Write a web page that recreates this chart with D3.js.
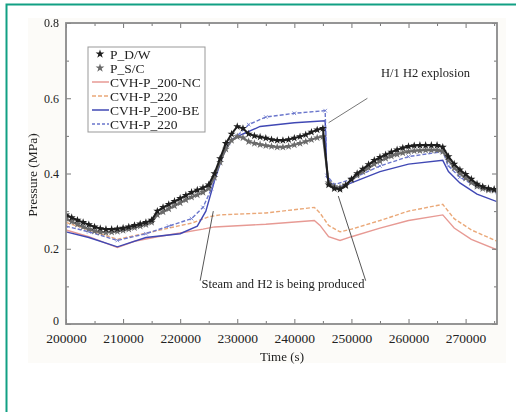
<!DOCTYPE html>
<html>
<head>
<meta charset="utf-8">
<script src="https://cdn.jsdelivr.net/npm/d3@7"></script>
<style>
  body { margin: 0; background: #fff; }
  svg { display: block; filter: blur(0.5px); }
  text { font-family: "Liberation Serif", "DejaVu Serif", serif; fill: #222; }
</style>
</head>
<body>
<script>
// experimental data, every 1000 s from 200000 to 275000
var expTime = d3.range(200000, 275001, 1000);
var pDW = [0.29, 0.283, 0.276, 0.27, 0.264, 0.258, 0.254, 0.252, 0.252, 0.253,
  0.255, 0.258, 0.262, 0.266, 0.27, 0.276, 0.30, 0.31, 0.318, 0.326,
  0.334, 0.342, 0.35, 0.356, 0.362, 0.37, 0.40, 0.44, 0.48, 0.505,
  0.525, 0.52, 0.505, 0.50, 0.497, 0.494, 0.49, 0.488, 0.488, 0.49,
  0.494, 0.498, 0.503, 0.51, 0.516, 0.52, 0.37, 0.36, 0.358, 0.368,
  0.385, 0.40, 0.412, 0.424, 0.435, 0.443, 0.45, 0.457, 0.463, 0.468,
  0.472, 0.474, 0.475, 0.475, 0.475, 0.475, 0.47, 0.445, 0.425, 0.41,
  0.398, 0.385, 0.372, 0.365, 0.36, 0.358];
var pSC = [0.28, 0.272, 0.265, 0.258, 0.252, 0.247, 0.244, 0.243, 0.244, 0.246,
  0.249, 0.252, 0.256, 0.26, 0.264, 0.27, 0.29, 0.298, 0.306, 0.314,
  0.322, 0.33, 0.337, 0.343, 0.35, 0.36, 0.39, 0.43, 0.465, 0.488,
  0.498, 0.495, 0.485, 0.48, 0.477, 0.474, 0.472, 0.47, 0.47, 0.472,
  0.476, 0.48, 0.485, 0.49, 0.495, 0.498, 0.375, 0.365, 0.362, 0.37,
  0.383, 0.395, 0.405, 0.415, 0.425, 0.433, 0.44, 0.446, 0.451, 0.455,
  0.458, 0.46, 0.461, 0.462, 0.462, 0.462, 0.458, 0.435, 0.415, 0.40,
  0.388, 0.376, 0.366, 0.36, 0.356, 0.355];

// model curves
var ncTime = [200000, 204000, 209000, 212000, 216000, 220000, 224000, 226000, 235000, 243500, 244500, 246000, 248000, 250000, 255000, 260000, 266000, 268000, 271000, 275500];
var ncVal  = [0.25, 0.232, 0.203, 0.22, 0.232, 0.242, 0.252, 0.258, 0.265, 0.275, 0.262, 0.232, 0.222, 0.232, 0.255, 0.275, 0.29, 0.255, 0.225, 0.197];
var p220Time = [200000, 204000, 209000, 213000, 218000, 222000, 225000, 227000, 235000, 243500, 244500, 246000, 248000, 250000, 255000, 260000, 266000, 268000, 271000, 275500];
var p220Val  = [0.27, 0.25, 0.225, 0.238, 0.255, 0.268, 0.285, 0.29, 0.295, 0.31, 0.295, 0.262, 0.245, 0.252, 0.275, 0.30, 0.318, 0.28, 0.25, 0.22];
var beTime = [200000, 204000, 209000, 214000, 220000, 223000, 224500, 226000, 227500, 229000, 231000, 234000, 240000, 245400, 245700, 247000, 250000, 255000, 260000, 266000, 267000, 269000, 272000, 275500];
var beVal  = [0.245, 0.23, 0.205, 0.23, 0.24, 0.26, 0.30, 0.38, 0.45, 0.49, 0.505, 0.525, 0.535, 0.54, 0.39, 0.36, 0.375, 0.405, 0.425, 0.435, 0.405, 0.375, 0.345, 0.325];
var b220Time = [200000, 204000, 209000, 214000, 218000, 222000, 224000, 225500, 227000, 228500, 230000, 232000, 235000, 240000, 245400, 245700, 247000, 250000, 255000, 260000, 266000, 267000, 269000, 272000, 275500];
var b220Val  = [0.26, 0.245, 0.222, 0.24, 0.26, 0.28, 0.31, 0.36, 0.43, 0.48, 0.50, 0.53, 0.55, 0.56, 0.567, 0.395, 0.37, 0.385, 0.42, 0.445, 0.458, 0.42, 0.39, 0.365, 0.35];

var xTicks = [200000, 210000, 220000, 230000, 240000, 250000, 260000, 270000];
var yTicks = [0, 0.2, 0.4, 0.6, 0.8];
var legendLabels = ["P_D/W", "P_S/C", "CVH-P_200-NC", "CVH-P_220", "CVH-P_200-BE", "CVH-P_220"];

var W = 516, H = 412;
var svg = d3.select("body").append("svg").attr("width", W).attr("height", H);

// outer teal frame
svg.append("rect").attr("x", 6.5).attr("y", 4.5).attr("width", 520).attr("height", 420)
  .attr("fill", "none").attr("stroke", "#12a084").attr("stroke-width", 2);
svg.append("rect").attr("x", 28).attr("y", 18).attr("width", 478).attr("height", 345)
  .attr("fill", "#fcfbf8");

var pLeft = 66, pTop = 23, pRight = 497, pBottom = 324;
var x = d3.scaleLinear().domain([200000, 275500]).range([pLeft, pRight]);
var y = d3.scaleLinear().domain([0, 0.8]).range([pBottom, pTop]);

svg.append("rect").attr("x", pLeft).attr("y", pTop).attr("width", pRight - pLeft).attr("height", pBottom - pTop)
  .attr("fill", "#fff");

svg.append("clipPath").attr("id", "clip").append("rect")
  .attr("x", pLeft).attr("y", pTop).attr("width", pRight - pLeft).attr("height", pBottom - pTop);
var plot = svg.append("g").attr("clip-path", "url(#clip)");

function zip(ts, vs) { return ts.map(function(t, i) { return [t, vs[i]]; }); }
var line = d3.line().x(function(d) { return x(d[0]); }).y(function(d) { return y(d[1]); });

var series = [
  {data: zip(ncTime, ncVal), color: "#e79a94", dash: null},
  {data: zip(p220Time, p220Val), color: "#eaa878", dash: "4,2"},
  {data: zip(beTime, beVal), color: "#4048b4", dash: null},
  {data: zip(b220Time, b220Val), color: "#6a76cc", dash: "4,2"}
];
plot.selectAll("path.model").data(series).enter().append("path")
  .attr("class", "model")
  .attr("d", function(d) { return line(d.data); })
  .attr("fill", "none")
  .attr("stroke", function(d) { return d.color; })
  .attr("stroke-width", 1.4)
  .attr("stroke-dasharray", function(d) { return d.dash; });

// small markers on blue dashed
plot.selectAll("path.b220m").data(series[3].data).enter().append("path")
  .attr("class", "b220m")
  .attr("transform", function(d) { return "translate(" + x(d[0]) + "," + y(d[1]) + ")"; })
  .attr("d", d3.symbol().type(d3.symbolTimes).size(10))
  .attr("stroke", "#6a76cc").attr("fill", "none").attr("stroke-width", 0.8);

var expSeries = [
  {data: zip(expTime, pSC), color: "#6a6a6a"},
  {data: zip(expTime, pDW), color: "#1e1e1e"}
];
expSeries.forEach(function(s) {
  plot.append("path").attr("d", line(s.data)).attr("fill", "none")
    .attr("stroke", s.color).attr("stroke-width", 2);
  plot.selectAll(null).data(s.data).enter().append("path")
    .attr("transform", function(d) { return "translate(" + x(d[0]) + "," + y(d[1]) + ")"; })
    .attr("d", d3.symbol().type(d3.symbolStar).size(20))
    .attr("fill", s.color);
});

// axes
var frame = svg.append("g");
frame.append("g").attr("class", "xlab").attr("transform", "translate(0," + pBottom + ")")
  .call(d3.axisBottom(x).tickValues(xTicks).tickSize(-5).tickPadding(9).tickFormat(d3.format("d")));
frame.append("g").attr("transform", "translate(0," + pTop + ")")
  .call(d3.axisTop(x).tickValues(xTicks).tickSize(-5).tickFormat(""));
frame.append("g").attr("class", "ylab").attr("transform", "translate(" + pLeft + ",0)")
  .call(d3.axisLeft(y).tickValues(yTicks).tickSize(-5).tickPadding(7).tickFormat(function(d) { return d === 0 ? "0" : d3.format(".1f")(d); }));
frame.append("g").attr("transform", "translate(" + pRight + ",0)")
  .call(d3.axisRight(y).tickValues(yTicks).tickSize(-5).tickFormat(""));
// minor ticks
var xMinor = d3.range(205000, 275001, 10000);
var yMinor = [0.1, 0.3, 0.5, 0.7];
frame.append("g").attr("transform", "translate(0," + pBottom + ")")
  .call(d3.axisBottom(x).tickValues(xMinor).tickSize(-3).tickFormat(""));
frame.append("g").attr("transform", "translate(0," + pTop + ")")
  .call(d3.axisTop(x).tickValues(xMinor).tickSize(-3).tickFormat(""));
frame.append("g").attr("transform", "translate(" + pLeft + ",0)")
  .call(d3.axisLeft(y).tickValues(yMinor).tickSize(-3).tickFormat(""));
frame.append("g").attr("transform", "translate(" + pRight + ",0)")
  .call(d3.axisRight(y).tickValues(yMinor).tickSize(-3).tickFormat(""));
frame.selectAll(".domain").remove();
frame.selectAll("line").attr("stroke", "#777");
frame.selectAll("text").attr("font-family", "Liberation Serif, serif").attr("fill", "#222");
frame.selectAll(".xlab text").attr("font-size", 13.5);
frame.selectAll(".ylab text").attr("font-size", 12);
// lift the "0" label a little so it clears the time labels
frame.selectAll(".ylab .tick").filter(function(d) { return d === 0; })
  .select("text").attr("dy", "0.05em");

svg.append("rect").attr("x", pLeft).attr("y", pTop).attr("width", pRight - pLeft).attr("height", pBottom - pTop)
  .attr("fill", "none").attr("stroke", "#8a8a8a").attr("stroke-width", 1.8);

svg.append("text").attr("x", 282).attr("y", 361).attr("text-anchor", "middle")
  .attr("font-size", 13).text("Time (s)");
svg.append("text").attr("transform", "translate(37,175) rotate(-90)").attr("text-anchor", "middle")
  .attr("font-size", 13.5).text("Pressure (MPa)");

// legend
var lg = svg.append("g");
lg.append("rect").attr("x", 88).attr("y", 47).attr("width", 117).attr("height", 85)
  .attr("fill", "#fff").attr("stroke", "#999").attr("stroke-width", 1);
var legendStyles = [
  {type: "mark", color: "#1e1e1e"},
  {type: "mark", color: "#6a6a6a"},
  {type: "line", color: series[0].color, dash: null},
  {type: "line", color: series[1].color, dash: "4,2"},
  {type: "line", color: series[2].color, dash: null},
  {type: "line", color: series[3].color, dash: "3,2"}
];
var rows = lg.selectAll("g.row").data(legendLabels).enter().append("g")
  .attr("transform", function(d, i) { return "translate(92," + (54 + i * 14) + ")"; });
rows.each(function(d, i) {
  var g = d3.select(this), st = legendStyles[i];
  if (st.type === "mark") {
    g.append("path").attr("transform", "translate(8,0)")
      .attr("d", d3.symbol().type(d3.symbolStar).size(24)).attr("fill", st.color);
  } else {
    g.append("line").attr("x1", 0).attr("x2", 17).attr("stroke", st.color)
      .attr("stroke-width", 1.5).attr("stroke-dasharray", st.dash);
  }
  g.append("text").attr("x", 18).attr("y", 4.5).attr("font-size", 13.5).text(d);
});

// annotations
var ann = svg.append("g");
ann.append("text").attr("x", 381).attr("y", 77).attr("font-size", 12.5).text("H/1 H2 explosion");
ann.append("line").attr("x1", x(252800)).attr("y1", y(0.6)).attr("x2", x(246000)).attr("y2", y(0.535))
  .attr("stroke", "#777").attr("stroke-width", 1);
ann.append("text").attr("x", 283).attr("y", 288).attr("text-anchor", "middle").attr("font-size", 12.5)
  .text("Steam and H2 is being produced");
ann.append("line").attr("x1", x(225800)).attr("y1", y(0.3)).attr("x2", x(223500)).attr("y2", y(0.115))
  .attr("stroke", "#555").attr("stroke-width", 1);
ann.append("line").attr("x1", x(247700)).attr("y1", y(0.34)).attr("x2", x(252500)).attr("y2", y(0.115))
  .attr("stroke", "#555").attr("stroke-width", 1);
</script>
</body>
</html>
